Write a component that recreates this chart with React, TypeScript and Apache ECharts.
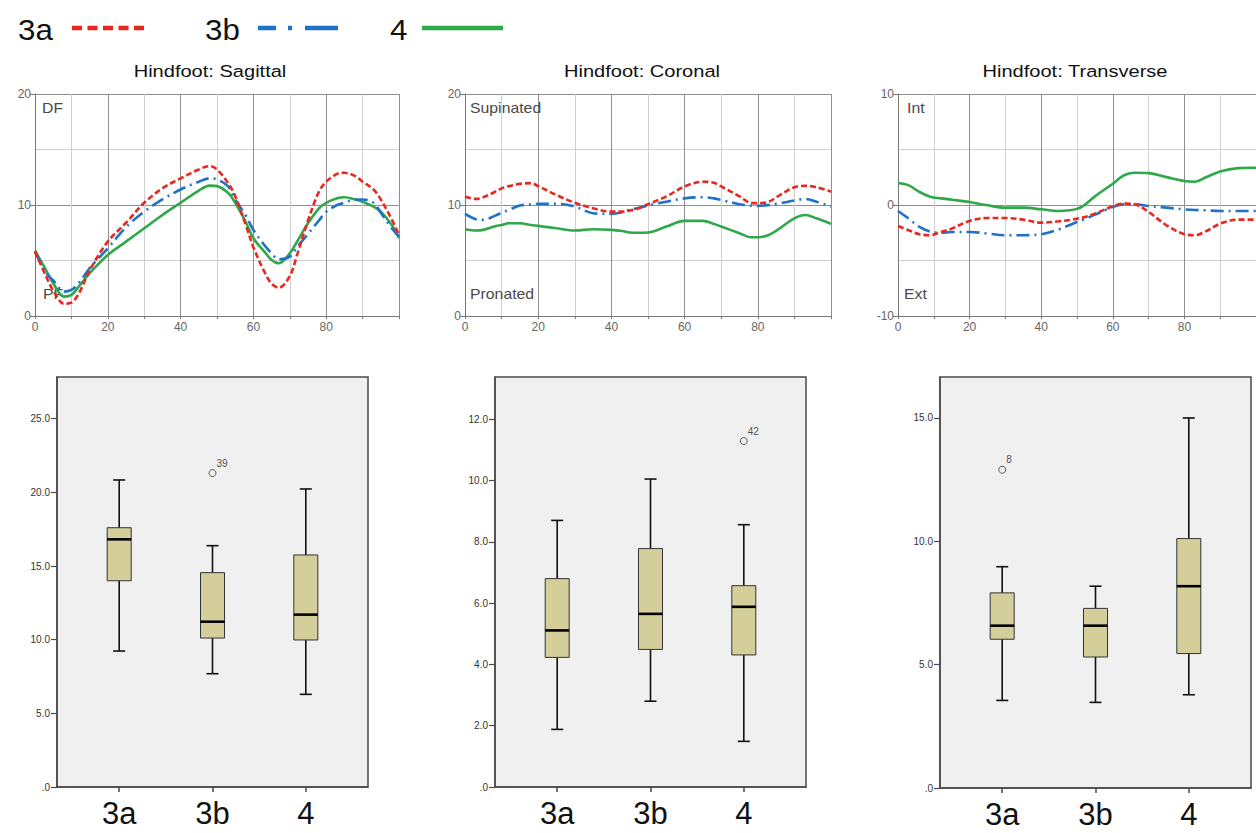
import React, { useEffect, useRef } from "react";
import * as echarts from "echarts";

const FONT = 'Arial, "Liberation Sans", Helvetica, sans-serif';

// ---- legend / series names ----
const groups = ["3a", "3b", "4"];
const groupColors = ["#e8271f", "#1f72c6", "#2fa84a"];

// ---- Line chart 1: Hindfoot Sagittal ----
const sagX = [0, 3, 5, 8, 10, 12, 15, 20, 25, 30, 35, 40, 45, 48, 50, 53, 55, 58, 60, 63, 65, 67, 70, 72, 75, 78, 80, 83, 85, 88, 90, 93, 95, 98, 100];
const sag3a = [5.8, 3.6, 2.3, 1.1, 1.2, 2.0, 4.1, 6.7, 8.4, 10.2, 11.5, 12.4, 13.2, 13.5, 13.2, 12.0, 10.8, 8.1, 6.2, 4.0, 2.9, 2.55, 3.6, 5.5, 8.6, 11.2, 12.1, 12.8, 12.9, 12.6, 12.1, 11.4, 10.5, 8.7, 7.3];
const sag3b = [5.8, 3.9, 3.2, 2.2, 2.35, 2.95, 4.3, 6.1, 8.0, 9.4, 10.5, 11.4, 12.1, 12.4, 12.3, 11.7, 10.5, 9.0, 7.75, 6.4, 5.65, 5.1, 5.35, 6.2, 7.4, 8.6, 9.4, 10.0, 10.2, 10.5, 10.5, 10.2, 9.3, 7.9, 7.15];
const sag4 = [5.9, 4.15, 2.95, 1.75, 1.9, 2.65, 3.85, 5.5, 6.7, 7.9, 9.1, 10.2, 11.3, 11.75, 11.7, 11.1, 10.2, 8.4, 7.0, 5.8, 5.05, 4.75, 5.65, 6.7, 8.35, 9.7, 10.2, 10.6, 10.7, 10.5, 10.3, 9.85, 9.4, 8.2, 7.0];

// ---- Line chart 2: Hindfoot Coronal ----
const corX = [0, 3, 5, 8, 10, 12, 15, 18, 20, 25, 30, 35, 40, 43, 45, 47, 50, 55, 60, 65, 68, 70, 75, 78, 80, 83, 86, 90, 93, 96, 100];
const cor3a = [10.77, 10.55, 10.7, 11.15, 11.5, 11.7, 11.9, 11.97, 11.7, 10.9, 10.2, 9.7, 9.4, 9.4, 9.5, 9.65, 10.07, 10.77, 11.67, 12.1, 12.0, 11.67, 10.77, 10.2, 10.17, 10.3, 10.9, 11.6, 11.73, 11.6, 11.2];
const cor3b = [9.2, 8.72, 8.66, 9.0, 9.3, 9.56, 9.95, 10.05, 10.1, 10.1, 9.86, 9.26, 9.2, 9.35, 9.56, 9.7, 9.95, 10.3, 10.6, 10.7, 10.6, 10.46, 10.07, 9.95, 9.92, 10.0, 10.15, 10.4, 10.55, 10.3, 9.86];
const cor4 = [7.82, 7.7, 7.76, 8.06, 8.2, 8.36, 8.36, 8.2, 8.12, 7.9, 7.7, 7.82, 7.76, 7.65, 7.52, 7.5, 7.52, 8.06, 8.57, 8.57, 8.3, 8.06, 7.46, 7.1, 7.1, 7.3, 7.9, 8.8, 9.1, 8.8, 8.3];

// ---- Line chart 3: Hindfoot Transverse ----
const traX = [0, 3, 6, 9, 12, 15, 20, 25, 30, 35, 40, 45, 48, 50, 52, 55, 60, 63, 66, 70, 75, 80, 83, 86, 90, 95, 98, 100];
const tra3a = [-1.89, -2.28, -2.63, -2.72, -2.43, -2.13, -1.44, -1.17, -1.17, -1.32, -1.59, -1.47, -1.35, -1.23, -1.1, -0.78, -0.12, 0.12, 0.06, -0.63, -1.83, -2.63, -2.72, -2.37, -1.68, -1.32, -1.32, -1.32];
const tra3b = [-0.54, -1.23, -1.98, -2.4, -2.5, -2.43, -2.43, -2.57, -2.72, -2.72, -2.63, -2.19, -1.8, -1.53, -1.3, -0.87, -0.18, 0.06, 0.06, -0.09, -0.24, -0.39, -0.45, -0.48, -0.54, -0.54, -0.54, -0.54];
const tra4 = [1.98, 1.77, 1.17, 0.75, 0.6, 0.48, 0.27, -0.03, -0.24, -0.24, -0.39, -0.54, -0.48, -0.35, -0.03, 0.78, 1.92, 2.66, 2.9, 2.87, 2.51, 2.16, 2.1, 2.5, 3.02, 3.32, 3.35, 3.35];

// ---- Box plots: [min, Q1, median, Q3, max] per group ----
const sagittalStats = [
  [9.23, 14.0, 16.81, 17.6, 20.84],
  [7.69, 10.11, 11.22, 14.55, 16.38],
  [6.29, 9.98, 11.7, 15.75, 20.23],
];
const coronalStats = [
  [1.88, 4.23, 5.11, 6.8, 8.7],
  [2.8, 4.49, 5.65, 7.78, 10.05],
  [1.49, 4.31, 5.88, 6.57, 8.56],
];
const transverseStats = [
  [3.55, 6.03, 6.58, 7.91, 8.97],
  [3.47, 5.31, 6.58, 7.28, 8.18],
  [3.78, 5.45, 8.18, 10.11, 15.0],
];
// outliers: [group index, value, case label]
const sagittalOutliers: [number, number, string][] = [[1, 21.31, "39"]];
const coronalOutliers: [number, number, string][] = [[2, 11.29, "42"]];
const transverseOutliers: [number, number, string][] = [[0, 12.9, "8"]];

const sagittalTicks = [0, 5, 10, 15, 20, 25];
const coronalTicks = [0, 2, 4, 6, 8, 10, 12];
const transverseTicks = [0, 5, 10, 15];

const lineTitles = ["Hindfoot: Sagittal", "Hindfoot: Coronal", "Hindfoot: Transverse"];

export default function App() {
  const ref = useRef<HTMLDivElement>(null);

  useEffect(() => {
    if (!ref.current) return;
    const chart = echarts.init(ref.current, undefined, { renderer: "svg" });

    const lineGrids = [
      { left: 35, top: 94, width: 364, height: 222 },
      { left: 465, top: 94, width: 366, height: 222 },
      { left: 898, top: 94, width: 366, height: 222 },
    ];
    const boxGrids = [
      { left: 57, top: 377, width: 311, height: 410 },
      { left: 495, top: 377, width: 311, height: 410 },
      { left: 940, top: 377, width: 311, height: 411 },
    ];
    const lineYRanges = [
      [0, 20],
      [0, 20],
      [-10, 10],
    ];
    const boxMax = [27.83, 13.38, 16.66];
    const boxTicks = [sagittalTicks, coronalTicks, transverseTicks];
    const boxStats = [sagittalStats, coronalStats, transverseStats];
    const boxOutliers = [sagittalOutliers, coronalOutliers, transverseOutliers];
    const lineData = [
      [sagX, [sag4, sag3b, sag3a]],
      [corX, [cor4, cor3b, cor3a]],
      [traX, [tra4, tra3b, tra3a]],
    ] as [number[], number[][]][];

    const grid: any[] = [];
    const xAxis: any[] = [];
    const yAxis: any[] = [];
    const series: any[] = [];

    lineGrids.forEach((g, i) => {
      grid.push({ ...g, containLabel: false });
      xAxis.push({
        gridIndex: i,
        type: "value",
        min: 0,
        max: 100,
        interval: 20,
        axisLine: { show: true, onZero: false, lineStyle: { color: "#777", width: 1 } },
        axisTick: { show: true, length: 3, lineStyle: { color: "#777" } },
        minorTick: { show: true, splitNumber: 2, length: 3, lineStyle: { color: "#777" } },
        axisLabel: { fontSize: 12, color: "#666", margin: 5, showMaxLabel: false, fontFamily: FONT },
        splitLine: { show: true, lineStyle: { color: "#8f8f8f", width: 1 } },
        minorSplitLine: { show: true, lineStyle: { color: "#d0d0d0", width: 1 } },
      });
      yAxis.push({
        gridIndex: i,
        type: "value",
        min: lineYRanges[i][0],
        max: lineYRanges[i][1],
        interval: 10,
        axisLine: { show: true, onZero: false, lineStyle: { color: "#777", width: 1 } },
        axisTick: { show: true, length: 5, lineStyle: { color: "#777" } },
        minorTick: { show: false, splitNumber: 2 },
        axisLabel: { fontSize: 12, color: "#666", margin: 4, fontFamily: FONT },
        splitLine: { show: true, lineStyle: { color: "#8f8f8f", width: 1 } },
        minorSplitLine: { show: true, lineStyle: { color: "#d0d0d0", width: 1 } },
      });
      const [xs, ys] = lineData[i];
      const styles = [
        { color: groupColors[2], type: "solid" as any },
        { color: groupColors[1], type: [13, 5, 2, 5] },
        { color: groupColors[0], type: [6, 3] },
      ];
      const names = [groups[2], groups[1], groups[0]];
      ys.forEach((vals, k) => {
        series.push({
          name: names[k],
          type: "line",
          xAxisIndex: i,
          yAxisIndex: i,
          data: xs.map((x, j) => [x, vals[j]]),
          symbol: "none",
          showSymbol: false,
          smooth: 0.35,
          clip: true,
          lineStyle: { color: styles[k].color, width: 2.6, type: styles[k].type },
          z: 3 + k,
        });
      });
    });

    boxGrids.forEach((g, b) => {
      const gi = 3 + b;
      grid.push({
        ...g,
        containLabel: false,
        show: true,
        backgroundColor: "#f0f0f0",
        borderColor: "#4a4a4a",
        borderWidth: 1.5,
      });
      xAxis.push({
        gridIndex: gi,
        type: "value",
        min: -2 / 3,
        max: 8 / 3,
        axisLine: { show: true, onZero: false, lineStyle: { color: "#4a4a4a", width: 1.5 } },
        axisTick: { show: true, length: 5, customValues: [0, 1, 2], lineStyle: { color: "#4a4a4a", width: 1.5 } },
        axisLabel: {
          customValues: [0, 1, 2],
          formatter: (v: number) => groups[Math.round(v)] ?? "",
          fontSize: 31,
          color: "#111",
          margin: 11,
          fontFamily: FONT,
        },
        splitLine: { show: false },
      });
      yAxis.push({
        gridIndex: gi,
        type: "value",
        min: 0,
        max: boxMax[b],
        axisLine: { show: true, onZero: false, lineStyle: { color: "#4a4a4a", width: 1.5 } },
        axisTick: { show: true, length: 6, customValues: boxTicks[b], lineStyle: { color: "#4a4a4a", width: 1.2 } },
        axisLabel: {
          customValues: boxTicks[b],
          formatter: (v: number) => (v === 0 ? ".0" : v.toFixed(1)),
          fontSize: 10,
          color: "#333",
          margin: 7,
          fontFamily: FONT,
        },
        splitLine: { show: false },
      });
      series.push({
        type: "custom",
        xAxisIndex: gi,
        yAxisIndex: gi,
        encode: { x: 0, y: [1, 2, 3, 4, 5] },
        data: boxStats[b].map((s, i) => [i, ...s]),
        renderItem: (_params: any, api: any) => {
          const x = api.value(0);
          const lo = api.coord([x, api.value(1)]);
          const q1 = api.coord([x, api.value(2)]);
          const md = api.coord([x, api.value(3)]);
          const q3 = api.coord([x, api.value(4)]);
          const hi = api.coord([x, api.value(5)]);
          const cx = lo[0];
          const hw = 12;
          const cw = 6;
          const wStyle = { stroke: "#111", lineWidth: 1.6 };
          return {
            type: "group",
            children: [
              { type: "line", shape: { x1: cx, y1: hi[1], x2: cx, y2: q3[1] }, style: wStyle },
              { type: "line", shape: { x1: cx, y1: q1[1], x2: cx, y2: lo[1] }, style: wStyle },
              { type: "line", shape: { x1: cx - cw, y1: hi[1], x2: cx + cw, y2: hi[1] }, style: wStyle },
              { type: "line", shape: { x1: cx - cw, y1: lo[1], x2: cx + cw, y2: lo[1] }, style: wStyle },
              {
                type: "rect",
                shape: { x: cx - hw, y: q3[1], width: hw * 2, height: q1[1] - q3[1] },
                style: { fill: "#d4cf9a", stroke: "#333", lineWidth: 1 },
              },
              {
                type: "line",
                shape: { x1: cx - hw, y1: md[1], x2: cx + hw, y2: md[1] },
                style: { stroke: "#000", lineWidth: 2.6 },
              },
            ],
          };
        },
        z: 3,
      });
      series.push({
        type: "scatter",
        xAxisIndex: gi,
        yAxisIndex: gi,
        symbol: "circle",
        symbolSize: 7,
        itemStyle: { color: "rgba(0,0,0,0)", borderColor: "#333", borderWidth: 1 },
        data: boxOutliers[b].map(([i, v, name]) => ({ value: [i, v], name })),
        label: {
          show: true,
          formatter: (p: any) => p.name,
          position: [8, -11],
          fontSize: 10,
          color: "#222",
          fontFamily: FONT,
        },
        z: 4,
      });
    });

    const titleCenters = [210, 642, 1075];
    const graphic: any[] = [];
    titleCenters.forEach((cx, i) => {
      graphic.push({
        type: "text",
        x: cx,
        y: 71,
        scaleX: 1.18,
        style: {
          text: lineTitles[i],
          fontSize: 17,
          fontFamily: FONT,
          fill: "#111",
          align: "center",
          verticalAlign: "middle",
        },
      });
    });
    const innerLabels: [string, number, number][] = [
      ["DF", 42, 101],
      ["PF", 43, 287],
      ["Supinated", 470, 101],
      ["Pronated", 470, 287],
      ["Int", 907, 101],
      ["Ext", 904, 287],
    ];
    innerLabels.forEach(([t, x, y]) => {
      graphic.push({
        type: "text",
        x,
        y,
        z: 1,
        scaleX: 1.13,
        style: { text: t, fontSize: 14, fontFamily: FONT, fill: "#4a4a4a", align: "left", verticalAlign: "top" },
      });
    });
    // legend
    const legendItems: [string, number, number, number, any][] = [
      [groups[0], 18, 72, 148, [10, 5.5]],
      [groups[1], 205, 258, 338, [18, 12, 4, 13, 33, 100]],
      [groups[2], 390, 422, 503, null],
    ];
    legendItems.forEach(([t, tx, x1, x2, dash], i) => {
      graphic.push({
        type: "text",
        x: tx,
        y: 30,
        scaleX: 1.08,
        style: { text: t, fontSize: 29, fontFamily: FONT, fill: "#111", align: "left", verticalAlign: "middle" },
      });
      graphic.push({
        type: "line",
        shape: { x1, y1: 28, x2, y2: 28 },
        style: { stroke: groupColors[i], lineWidth: 4.5, lineDash: dash || undefined },
      });
    });

    chart.setOption({
      animation: false,
      backgroundColor: "#ffffff",
      textStyle: { fontFamily: FONT },
      grid,
      xAxis,
      yAxis,
      series,
      graphic,
    });

    return () => chart.dispose();
  }, []);

  return (
    <div
      ref={ref}
      style={{ position: "absolute", left: 0, top: 0, width: 1256, height: 833 }}
    />
  );
}
